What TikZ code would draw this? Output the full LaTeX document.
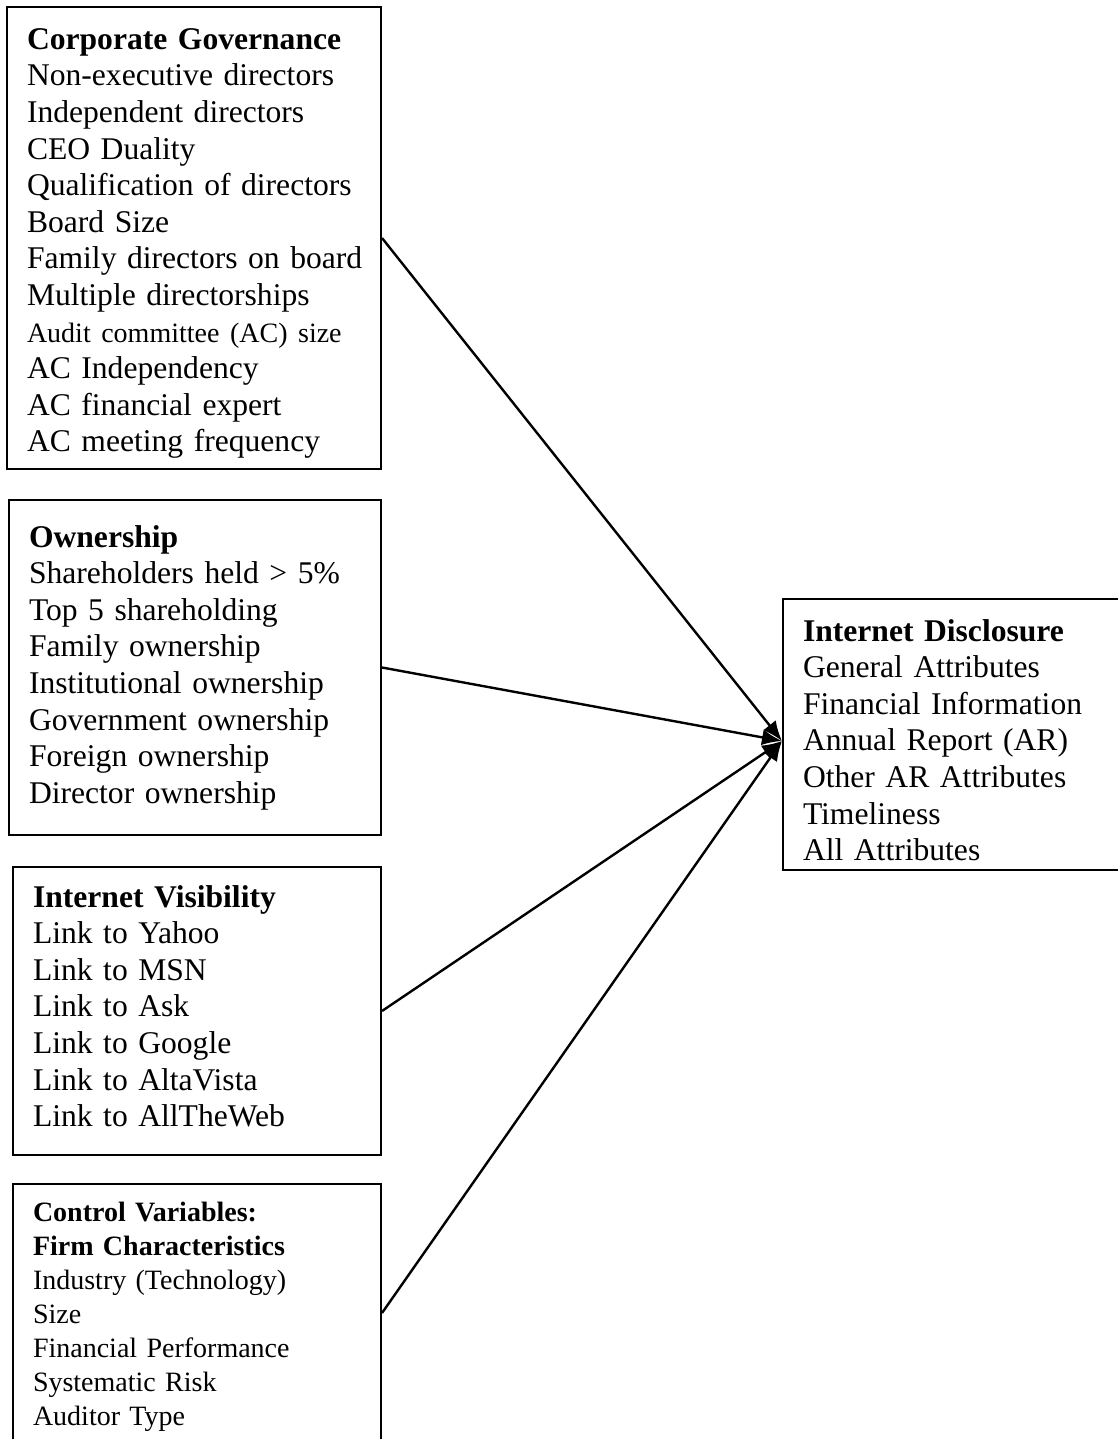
\documentclass[tikz,border=0pt]{standalone}
\usepackage{fontspec}
\setmainfont{Liberation Serif}
\usetikzlibrary{arrows.meta}

\begin{document}
\begin{tikzpicture}[x=0.5pt,y=-0.5pt,box/.style={draw,line width=1pt,align=left,inner xsep=10pt,inner ysep=0pt,font=\fontsize{15.8}{18.3}\selectfont},link/.style={line width=1.2pt,-{Latex[length=10pt,width=8pt]}}]
    \useasboundingbox (0,0) rectangle (1118,1439);
    \clip (0,0) rectangle (1118,1439);
    \node[box,text width=167pt,minimum height=231pt] (gov) at (194,238) {\rule{0pt}{16pt}\textbf{Corporate Governance}\\ Non-executive directors\\ Independent directors\\ CEO Duality\\ Qualification of directors\\ Board Size\\ \mbox{Family directors on board}\\ Multiple directorships\\ {\fontsize{14}{18.3}\selectfont Audit committee (AC) size}\\ AC Independency\\ AC financial expert\\ AC meeting frequency};
    \node[box,text width=166pt,minimum height=167.5pt] (own) at (195,667.5) {\textbf{Ownership}\\ Shareholders held > 5\%\\ Top 5 shareholding\\ Family ownership\\ Institutional ownership\\ Government ownership\\ Foreign ownership\\ Director ownership};
    \node[box,text width=164pt,minimum height=144pt] (vis) at (197,1011) {\textbf{Internet Visibility}\\ Link to Yahoo\\ Link to MSN\\ Link to Ask\\ Link to Google\\ Link to AltaVista\\ Link to AllTheWeb\rule[-5pt]{0pt}{5pt}};
    \node[box,text width=164pt,minimum height=129pt,font=\fontsize{14}{17}\selectfont] (ctrl) at (197,1313) {\rule{0pt}{13.5pt}\textbf{Control Variables:}\\ \textbf{Firm Characteristics}\\ Industry (Technology)\\ Size\\ Financial Performance\\ Systematic Risk\\ Auditor Type};
    \node[box,text width=153.5pt,minimum height=135.5pt] (disc) at (956.5,734.5) {\rule{0pt}{16.5pt}\textbf{Internet Disclosure}\\ General Attributes\\ Financial Information\\ Annual Report (AR)\\ Other AR Attributes\\ Timeliness\\ All Attributes};
    \coordinate (tip) at ([yshift=-3.25pt]disc.west);
    \draw[link] (gov.east) -- (tip);
    \draw[link] (own.east) -- (tip);
    \draw[link] (vis.east) -- (tip);
    \draw[link] (ctrl.east) -- (tip);
\end{tikzpicture}
\end{document}
